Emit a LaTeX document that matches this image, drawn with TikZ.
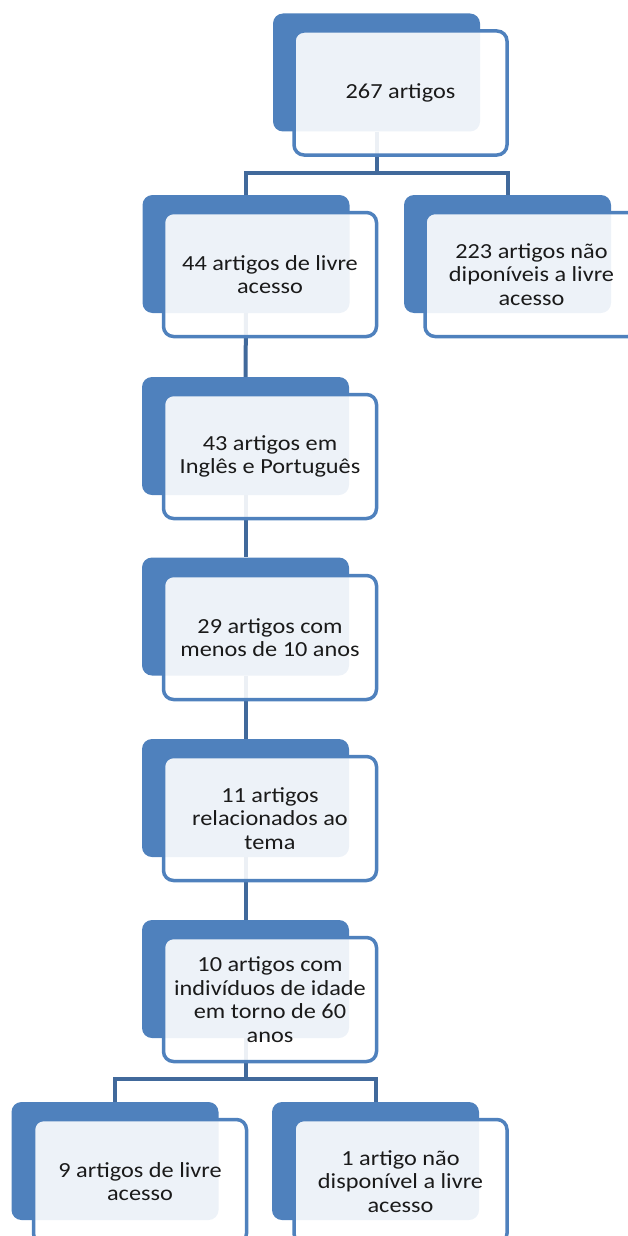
\documentclass[tikz,border=0pt]{standalone}
\usepackage{fontspec}
\setmainfont{Carlito}[FakeStretch=1.13]
\definecolor{boxblue}{HTML}{4F81BD}
\definecolor{linkblue}{HTML}{41699B}
\definecolor{textgray}{HTML}{1A1A1A}
\tikzset{
	back/.style={fill=boxblue, rounded corners=10pt, minimum width=207pt, minimum height=118pt, inner sep=0pt},
	front/.style={draw=boxblue, line width=3.5pt, fill=white, fill opacity=0.9, text opacity=1, text=textgray,
		rounded corners=10pt, minimum width=213pt, minimum height=124pt, inner sep=0pt, align=center,
		font=\fontsize{21.5}{23.5}\selectfont},
	link/.style={draw=linkblue, line width=4pt}
}
\begin{document}
\begin{tikzpicture}[x=1pt,y=-1pt]
		\useasboundingbox (0,0) rectangle (628,1236);
		\clip (0,0) rectangle (628,1236);

		% fundos
		\node[back] (b0) at (376.5,72.5) {};
		\node[back] (b1) at (246,254) {};
		\node[back] (b2) at (507.5,254) {};
		\node[back] (b3) at (245.5,436) {};
		\node[back] (b4) at (245.5,616.5) {};
		\node[back] (b5) at (245.5,798) {};
		\node[back] (b6) at (245.5,979) {};
		\node[back] (b7) at (115,1161) {};
		\node[back] (b8) at (375.5,1161) {};

		% ligacoes
		\draw[link] (b0.south) -- ++(0,41) -| (b1.north);
		\draw[link] (b0.south) -- ++(0,41) -| (b2.north);
		\draw[link] (b1.south) -- (b3.north);
		\draw[link] (b3.south) -- (b4.north);
		\draw[link] (b4.south) -- (b5.north);
		\draw[link] (b5.south) -- (b6.north);
		\draw[link] (b6.south) -- ++(0,41) -| (b7.north);
		\draw[link] (b6.south) -- ++(0,41) -| (b8.north);

		% caixas
		\node[front] (f0) at (400.5,93) {267 artigos};
		\node[front] (f1) at (270,274.5) {44 artigos de livre\\acesso};
		\node[front] (f2) at (531.5,274.5) {223 artigos não\\diponíveis a livre\\acesso};
		\node[front] (f3) at (270,456.5) {43 artigos em\\Inglês e Português};
		\node[front] (f4) at (270,637.5) {29 artigos com\\menos de 10 anos};
		\node[front] (f5) at (270,818.5) {11 artigos\\relacionados ao\\tema};
		\node[front] (f6) at (270,999.5) {10 artigos com\\indivíduos de idade\\em torno de 60\\anos};
		\node[front] (f7) at (140,1181.5) {9 artigos de livre\\acesso};
		\node[front] (f8) at (400.5,1181.5) {1 artigo não\\disponível a livre\\acesso};
	\end{tikzpicture}
\end{document}
